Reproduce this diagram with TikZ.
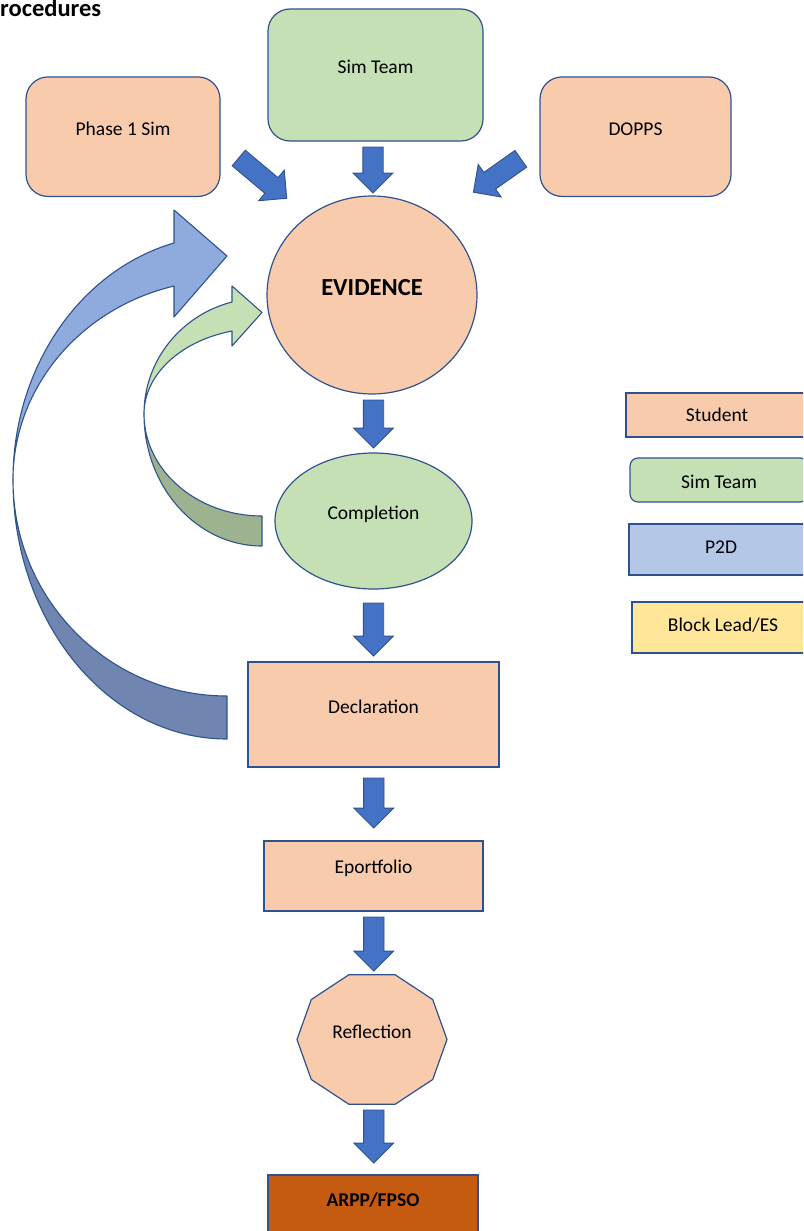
\documentclass[tikz,border=0pt]{standalone}
\usepackage{fontspec}
\setmainfont{Carlito}
\usetikzlibrary{shapes.geometric,shapes.arrows,calc}
\definecolor{peach}{HTML}{F8CBAD}
\definecolor{sgreen}{HTML}{C5E0B4}
\definecolor{sgreendark}{HTML}{9DB38F}
\definecolor{pblue}{HTML}{B4C7E7}
\definecolor{byellow}{HTML}{FFE699}
\definecolor{rust}{HTML}{C55A11}
\definecolor{edge}{HTML}{2F528F}
\definecolor{arrowblue}{HTML}{4472C4}
\definecolor{cblue}{HTML}{8FAADC}
\definecolor{cbluedark}{HTML}{7086B1}
\begin{document}
\begin{tikzpicture}[x=1pt,y=1pt,
  shp/.style={draw=edge, line width=1.2pt, inner sep=0pt, outer sep=0pt},
  lbl/.style={font=\fontsize{19.5}{23}\selectfont, inner sep=0pt, text height=12.6pt, text depth=0pt},
  blbl/.style={font=\bfseries\fontsize{19.5}{23}\selectfont, inner sep=0pt, text height=12.6pt, text depth=0pt},
  txt/.style 2 args={label={[lbl,yshift=#2]center:#1}},
  btxt/.style 2 args={label={[blbl,yshift=#2]center:#1}},
  curv/.style={draw=edge, line width=1.1pt, line join=round},
  barrow/.style={single arrow, draw=edge, line width=0.9pt, fill=arrowblue,
    inner xsep=0pt, inner ysep=9.75pt, outer sep=0pt,
    single arrow head extend=9.75pt, single arrow tip angle=90,
    minimum width=1pt, anchor=tail}
]
\useasboundingbox (0,0) rectangle (803,-1231);
\clip (0,0) rectangle (803,-1231);

% title
\node[anchor=base west, inner sep=0pt, font=\bfseries\fontsize{24.5}{28}\selectfont] (title) at (0,-16.5) {rocedures};

% curved arrows
\draw[curv, fill=cbluedark] (13,-480) arc[start angle=180,end angle=270,x radius=214,y radius=259]
  -- (227,-696) arc[start angle=270,end angle=180,x radius=214,y radius=216] -- cycle;
\draw[curv, fill=cblue] (174,-243) arc[start angle=104.33,end angle=180,x radius=214,y radius=244.6]
  arc[start angle=180,end angle=104.33,x radius=214,y radius=200.2]
  -- (174,-317) -- (227,-256) -- (174,-210) -- cycle;
\draw[curv, fill=sgreendark] (144,-414) arc[start angle=180,end angle=270,x radius=118,y radius=132]
  -- (262,-516) arc[start angle=270,end angle=180,x radius=118,y radius=102] -- cycle;
\draw[curv, fill=sgreen] (232,-302) arc[start angle=104.72,end angle=180,x radius=118,y radius=115.8]
  arc[start angle=180,end angle=104.72,x radius=118,y radius=85.8]
  -- (232,-346) -- (262,-312.5) -- (232,-286) -- cycle;

% top boxes
\node[shp, fill=sgreen, rounded corners=22pt, minimum width=215pt, minimum height=132pt, txt={Sim Team}{8pt}] (simteam) at (375.5,-75) {};
\node[shp, fill=peach, rounded corners=22pt, minimum width=194pt, minimum height=119.5pt, txt={Phase 1 Sim}{7.7pt}] (phase) at (123,-136.7) {};
\node[shp, fill=peach, rounded corners=22pt, minimum width=191pt, minimum height=119.5pt, txt={DOPPS}{7.7pt}] (dopps) at (635.5,-136.7) {};

% main flow
\node[shp, ellipse, fill=peach, minimum width=210pt, minimum height=198pt] (evidence) at (372,-295) {};
\node[font=\bfseries\fontsize{24.5}{28}\selectfont, inner sep=0pt, text height=15.8pt, text depth=0pt] (evtext) at (372,-288) {EVIDENCE};
\node[shp, ellipse, fill=sgreen, minimum width=197pt, minimum height=136pt, txt={Completion}{8pt}] (completion) at (373.5,-521) {};
\node[shp, rectangle, fill=peach, minimum width=251pt, minimum height=105pt, txt={Declaration}{7.5pt}] (declaration) at (373.5,-714.5) {};
\node[shp, rectangle, fill=peach, minimum width=219pt, minimum height=70pt, txt={Eportfolio}{9pt}] (eportfolio) at (373.5,-876) {};
\draw[shp, fill=peach] (447,-1039.5) -- (432.7,-999.5) -- (395.2,-974.8) -- (348.8,-974.8) -- (311.3,-999.5)
  -- (297,-1039.5) -- (311.3,-1079.5) -- (348.8,-1104.2) -- (395.2,-1104.2) -- (432.7,-1079.5) -- cycle;
\node[lbl] (reflection) at (372,-1032) {Reflection};
\node[shp, rectangle, fill=rust, minimum width=210pt, minimum height=64pt, btxt={ARPP/FPSO}{7pt}] (arpp) at (373,-1207) {};

% block arrows
\node[barrow, rotate=-90, minimum height=46pt] (a1) at (373,-147) {};
\node[barrow, rotate=-40, minimum height=62.7pt] (a2) at (238.7,-158) {};
\node[barrow, rotate=-144.8, minimum height=58pt] (a3) at (520.8,-158.8) {};
\node[barrow, rotate=-90, minimum height=48pt] (a4) at (373.5,-400) {};
\node[barrow, rotate=-90, minimum height=53pt] (a5) at (373.5,-603) {};
\node[barrow, rotate=-90, minimum height=50pt] (a6) at (373.8,-778) {};
\node[barrow, rotate=-90, minimum height=54pt] (a7) at (373.8,-917) {};
\node[barrow, rotate=-90, minimum height=53pt] (a8) at (373.8,-1110) {};

% legend
\node[shp, rectangle, fill=peach, minimum width=182pt, minimum height=44pt, txt={Student}{0pt}] (lstudent) at (717,-415) {};
\node[shp, fill=sgreen, rounded corners=8pt, minimum width=178pt, minimum height=44pt, txt={Sim Team}{-2pt}] (lsim) at (719,-480) {};
\node[shp, rectangle, fill=pblue, minimum width=184pt, minimum height=51pt, txt={P2D}{2.5pt}] (lp2d) at (721,-549.5) {};
\node[shp, rectangle, fill=byellow, minimum width=182pt, minimum height=51pt, txt={Block Lead/ES}{2.5pt}] (lblock) at (723,-627.5) {};
\end{tikzpicture}
\end{document}
